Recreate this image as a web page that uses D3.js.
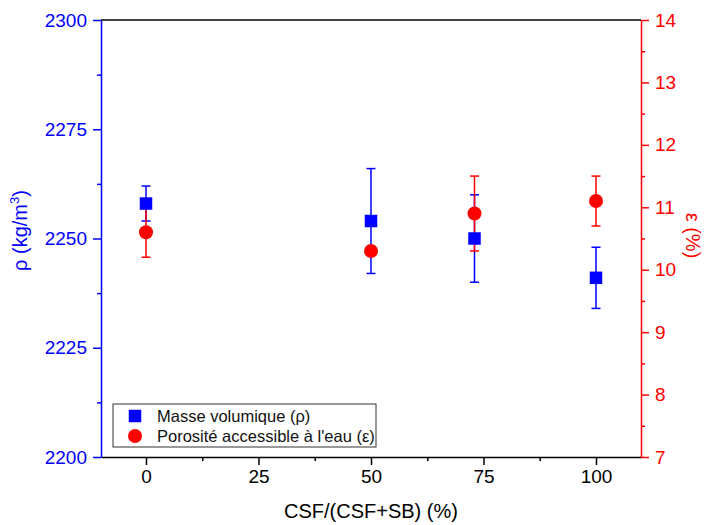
<!DOCTYPE html>
<html>
<head>
<meta charset="utf-8">
<script src="https://cdn.jsdelivr.net/npm/d3@7"></script>
<style>
  body { margin: 0; background: #fff; }
  svg { font-family: Arial, "Liberation Sans", sans-serif; }
</style>
</head>
<body>
<div id="chart"></div>
<script>
// values
const ratios = [0, 50, 73, 100];
const density = [2258, 2254, 2250, 2241];
const densityErr = [4, 12, 10, 7];
const porosity = [10.6, 10.3, 10.9, 11.1];
const porosityErr = [0.4, 0.05, 0.6, 0.4];

const xTicks = [0, 25, 50, 75, 100];
const xMinor = [12.5, 37.5, 62.5, 87.5];
const rhoTicks = [2200, 2225, 2250, 2275, 2300];
const rhoMinor = [2212.5, 2237.5, 2262.5, 2287.5];
const epsTicks = [7, 8, 9, 10, 11, 12, 13, 14];
const epsMinor = [7.5, 8.5, 9.5, 10.5, 11.5, 12.5, 13.5];

const legendLabels = ["Masse volumique (ρ)", "Porosité accessible à l'eau (ε)"];

const width = 706, height = 525;
const margin = { top: 20, right: 65, bottom: 68, left: 101 };
const innerW = width - margin.left - margin.right;
const innerH = height - margin.top - margin.bottom;

const BLUE = "#0000ff", RED = "#ff0000";

const svg = d3.select("#chart")
  .append("svg")
  .attr("width", width)
  .attr("height", height);

const g = svg.append("g")
  .attr("transform", `translate(${margin.left},${margin.top})`);

const x = d3.scaleLinear().domain([-10, 110]).range([0, innerW]);
const yRho = d3.scaleLinear().domain([2200, 2300]).range([innerH, 0]);
const yEps = d3.scaleLinear().domain([7, 14]).range([innerH, 0]);

// axes: major ticks with labels, minor ticks without
function styleAxis(sel, color) {
  sel.select(".domain").attr("stroke", color).attr("stroke-width", 1.5);
  sel.selectAll(".tick line").attr("stroke", color).attr("stroke-width", 1.5);
  sel.selectAll(".tick text").attr("fill", color).style("font-size", "19px");
}

const xAxis = g.append("g")
  .attr("transform", `translate(0,${innerH})`)
  .call(d3.axisBottom(x).tickValues(xTicks).tickSize(8).tickSizeOuter(0).tickPadding(5).tickFormat(d3.format("d")));
styleAxis(xAxis, "#000");
g.append("g")
  .attr("transform", `translate(0,${innerH})`)
  .call(d3.axisBottom(x).tickValues(xMinor).tickSize(4).tickFormat(""))
  .call(s => { s.select(".domain").remove(); s.selectAll("line").attr("stroke", "#000").attr("stroke-width", 1.5); });

const leftAxis = g.append("g")
  .call(d3.axisLeft(yRho).tickValues(rhoTicks).tickSize(8).tickSizeOuter(0).tickPadding(6).tickFormat(d3.format("d")));
styleAxis(leftAxis, BLUE);
g.append("g")
  .call(d3.axisLeft(yRho).tickValues(rhoMinor).tickSize(4).tickFormat(""))
  .call(s => { s.select(".domain").remove(); s.selectAll("line").attr("stroke", BLUE).attr("stroke-width", 1.5); });

const rightAxis = g.append("g")
  .attr("transform", `translate(${innerW},0)`)
  .call(d3.axisRight(yEps).tickValues(epsTicks).tickSize(8).tickSizeOuter(0).tickPadding(6).tickFormat(d3.format("d")));
styleAxis(rightAxis, RED);
g.append("g")
  .attr("transform", `translate(${innerW},0)`)
  .call(d3.axisRight(yEps).tickValues(epsMinor).tickSize(4).tickFormat(""))
  .call(s => { s.select(".domain").remove(); s.selectAll("line").attr("stroke", RED).attr("stroke-width", 1.5); });

// top frame line
g.append("line")
  .attr("x1", 0).attr("x2", innerW)
  .attr("y1", 0).attr("y2", 0)
  .attr("stroke", "#000").attr("stroke-width", 1.5);

// axis titles
svg.append("text")
  .attr("x", margin.left + innerW / 2)
  .attr("y", height - 7)
  .attr("text-anchor", "middle")
  .style("font-size", "20px")
  .text("CSF/(CSF+SB) (%)");

const rhoTitle = svg.append("text")
  .attr("transform", `translate(27,${margin.top + innerH / 2 - 8}) rotate(-90)`)
  .attr("text-anchor", "middle")
  .attr("fill", BLUE)
  .style("font-size", "20px");
rhoTitle.append("tspan").text("ρ (kg/m");
rhoTitle.append("tspan").attr("dy", -8).style("font-size", "13px").text("3");
rhoTitle.append("tspan").attr("dy", 8).text(")");

svg.append("text")
  .attr("transform", `translate(686,${margin.top + innerH / 2 - 3}) rotate(90)`)
  .attr("text-anchor", "middle")
  .attr("fill", RED)
  .style("font-size", "20px")
  .text("ε (%)");

// error bars
const capW = 4.5;
function errorBars(values, errs, scale, color) {
  const bars = g.append("g")
    .selectAll("g")
    .data(ratios.map((r, i) => ({ r, v: values[i], e: errs[i] })))
    .join("g")
    .attr("stroke", color)
    .attr("stroke-width", 1.5);
  bars.append("line")
    .attr("x1", d => x(d.r)).attr("x2", d => x(d.r))
    .attr("y1", d => scale(d.v + d.e)).attr("y2", d => scale(d.v - d.e));
  bars.append("line")
    .attr("x1", d => x(d.r) - capW).attr("x2", d => x(d.r) + capW)
    .attr("y1", d => scale(d.v + d.e)).attr("y2", d => scale(d.v + d.e));
  bars.append("line")
    .attr("x1", d => x(d.r) - capW).attr("x2", d => x(d.r) + capW)
    .attr("y1", d => scale(d.v - d.e)).attr("y2", d => scale(d.v - d.e));
}
errorBars(density, densityErr, yRho, BLUE);
errorBars(porosity, porosityErr, yEps, RED);

// markers
const sq = 12.5;
g.append("g")
  .selectAll("rect")
  .data(ratios)
  .join("rect")
  .attr("x", (d) => x(d) - sq / 2)
  .attr("y", (d, i) => yRho(density[i]) - sq / 2)
  .attr("width", sq).attr("height", sq)
  .attr("fill", BLUE);

g.append("g")
  .selectAll("circle")
  .data(ratios)
  .join("circle")
  .attr("cx", d => x(d))
  .attr("cy", (d, i) => yEps(porosity[i]))
  .attr("r", 7)
  .attr("fill", RED);

// legend
const legend = svg.append("g").attr("transform", "translate(113,404)");
legend.append("rect")
  .attr("width", 263).attr("height", 43)
  .attr("fill", "#fff")
  .attr("stroke", "#333").attr("stroke-width", 1);
legend.append("rect")
  .attr("x", 22 - sq / 2).attr("y", 12 - sq / 2)
  .attr("width", sq).attr("height", sq)
  .attr("fill", BLUE);
legend.append("circle")
  .attr("cx", 22).attr("cy", 32).attr("r", 7)
  .attr("fill", RED);
legend.selectAll("text.lbl")
  .data(legendLabels)
  .join("text")
  .attr("class", "lbl")
  .attr("x", 44)
  .attr("y", (d, i) => 12 + i * 20)
  .attr("dy", "0.36em")
  .style("font-size", "16.5px")
  .attr("fill", "#111")
  .text(d => d);
</script>
</body>
</html>
